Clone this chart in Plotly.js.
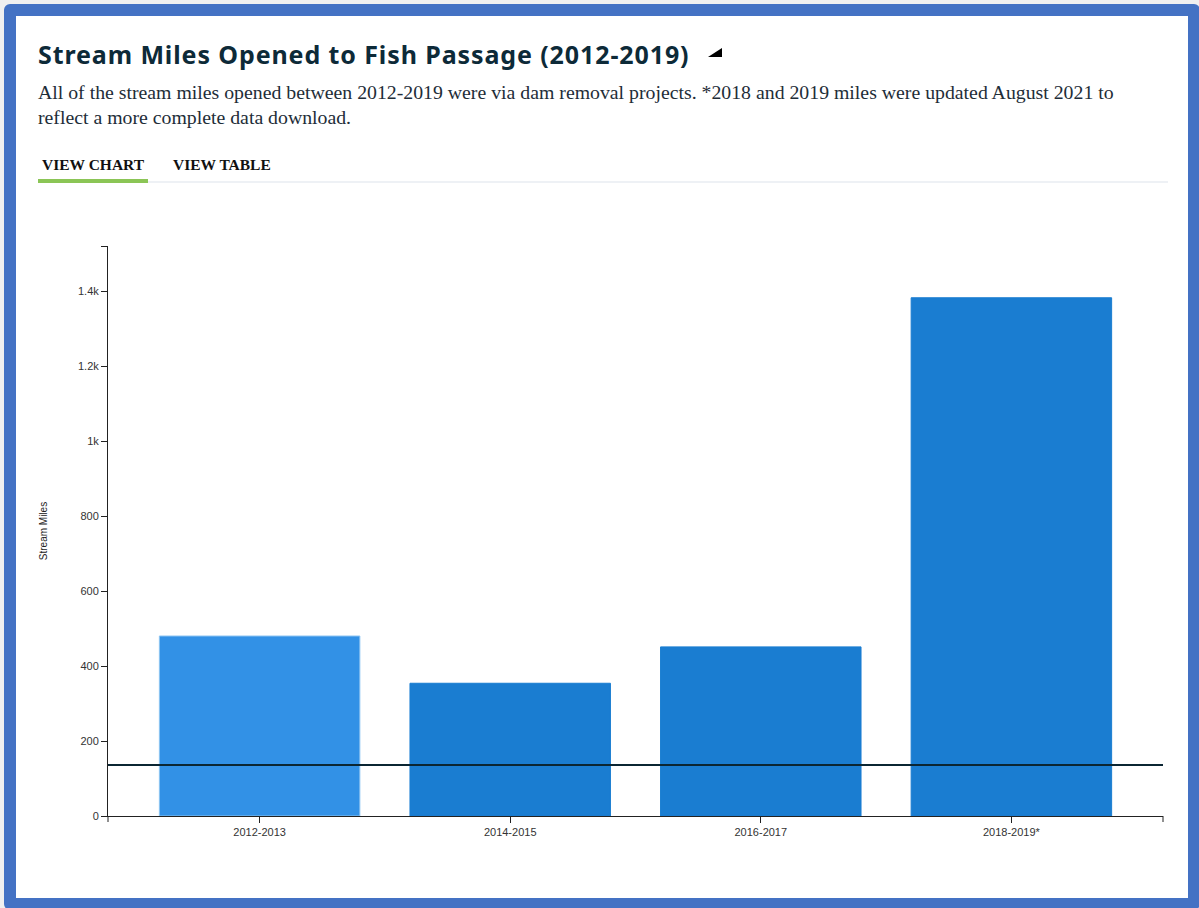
<!DOCTYPE html>
<html>
<head>
<meta charset="utf-8">
<script src="https://cdn.plot.ly/plotly-3.0.1.min.js"></script>
<style>
  html, body { margin:0; padding:0; width:1199px; height:908px; overflow:hidden; background:#f0f0f0; }
  #frame { position:absolute; left:4px; top:4px; width:1196px; height:906px; box-sizing:border-box;
           border:12px solid #4472c4; border-radius:6px; background:#fff; }
  #title { position:absolute; left:38px; top:38px; font-family:"Noto Sans", sans-serif; font-weight:700;
           font-size:25px; letter-spacing:0.9px; color:#0d2a38; white-space:nowrap; margin:0; line-height:32px; }
  #icon { position:absolute; left:708px; top:48px; width:0; height:0;
          border-left:14px solid transparent; border-bottom:9px solid #000; }
  #sub { position:absolute; left:38px; top:80px; font-family:"Liberation Serif", serif; font-size:19.8px;
         color:#1e2d38; line-height:25px; white-space:nowrap; }
  .tab { position:absolute; top:156px; font-family:"Liberation Serif", serif; font-weight:700; font-size:15.5px;
         color:#111; white-space:nowrap; }
  #sep { position:absolute; left:38px; top:181px; width:1130px; height:2px; background:#eef1f5; }
  #ul { position:absolute; left:38px; top:179px; width:110px; height:4px; background:#8bc556; }
  #plot { position:absolute; left:16px; top:190px; width:1172px; height:700px; }
</style>
</head>
<body>
<div id="frame"></div>
<div id="title">Stream Miles Opened to Fish Passage (2012-2019)</div>
<div id="icon"></div>
<div id="sub">All of the stream miles opened between 2012-2019 were via dam removal projects. *2018 and 2019 miles were updated August 2021 to<br>reflect a more complete data download.</div>
<div class="tab" style="left:42px;">VIEW CHART</div>
<div class="tab" style="left:173px;">VIEW TABLE</div>
<div id="sep"></div>
<div id="ul"></div>
<div id="plot"></div>
<script>
// ---- data ----
const periods = ["2012-2013", "2014-2015", "2016-2017", "2018-2019*"];
const streamMiles = [480, 354, 451, 1382];
const referenceValue = [136];
const yTickValues = [0, 200, 400, 600, 800, 1000, 1200, 1400, 1520];
const yTickLabels = ["0", "200", "400", "600", "800", "1k", "1.2k", "1.4k", ""];
const yTitle = "Stream Miles";

const barColors = periods.map((p, i) => i === 0 ? "#3291e6" : "#1a7dd1");
const barLines = periods.map((p, i) => i === 0 ? "#8cc4f2" : "#1a7dd1");

const trace = {
  type: "bar",
  x: periods,
  y: streamMiles,
  marker: { color: barColors, line: { color: barLines, width: 1 } },
  width: 0.8,
  hoverinfo: "x+y"
};

const axisFont = { family: "Arial, 'Liberation Sans', sans-serif", size: 11, color: "#333" };

const layout = {
  width: 1172, height: 700,
  margin: { l: 92, r: 25, t: 56, b: 74 },
  paper_bgcolor: "rgba(0,0,0,0)",
  plot_bgcolor: "rgba(0,0,0,0)",
  showlegend: false,
  xaxis: {
    type: "category",
    range: [-0.605, 3.605],
    showline: true, linecolor: "#222", linewidth: 1,
    ticks: "outside", ticklen: 6, tickcolor: "#222",
    showgrid: false, zeroline: false,
    tickfont: axisFont,
    fixedrange: true
  },
  yaxis: {
    range: [0, 1520],
    tickvals: yTickValues, ticktext: yTickLabels,
    showline: true, linecolor: "#222", linewidth: 1,
    ticks: "outside", ticklen: 6, tickcolor: "#222",
    showgrid: false, zeroline: false,
    tickfont: axisFont,
    title: { text: yTitle, font: { family: "Arial, 'Liberation Sans', sans-serif", size: 10, color: "#222" }, standoff: 28 },
    fixedrange: true
  },
  shapes: [
    { type: "line", xref: "paper", x0: 0, x1: 0, yref: "paper", ysizemode: "pixel", yanchor: 0, y0: 0, y1: -6,
      line: { color: "#222", width: 1 } },
    { type: "line", xref: "paper", x0: 1, x1: 1, yref: "paper", ysizemode: "pixel", yanchor: 0, y0: 0, y1: -6,
      line: { color: "#222", width: 1 } },
    { type: "line", xref: "paper", x0: 0, x1: 1, yref: "y", y0: referenceValue[0], y1: referenceValue[0],
      line: { color: "#0b2633", width: 2 } }
  ]
};

Plotly.newPlot("plot", [trace], layout, { displayModeBar: false, responsive: false });
</script>
</body>
</html>
